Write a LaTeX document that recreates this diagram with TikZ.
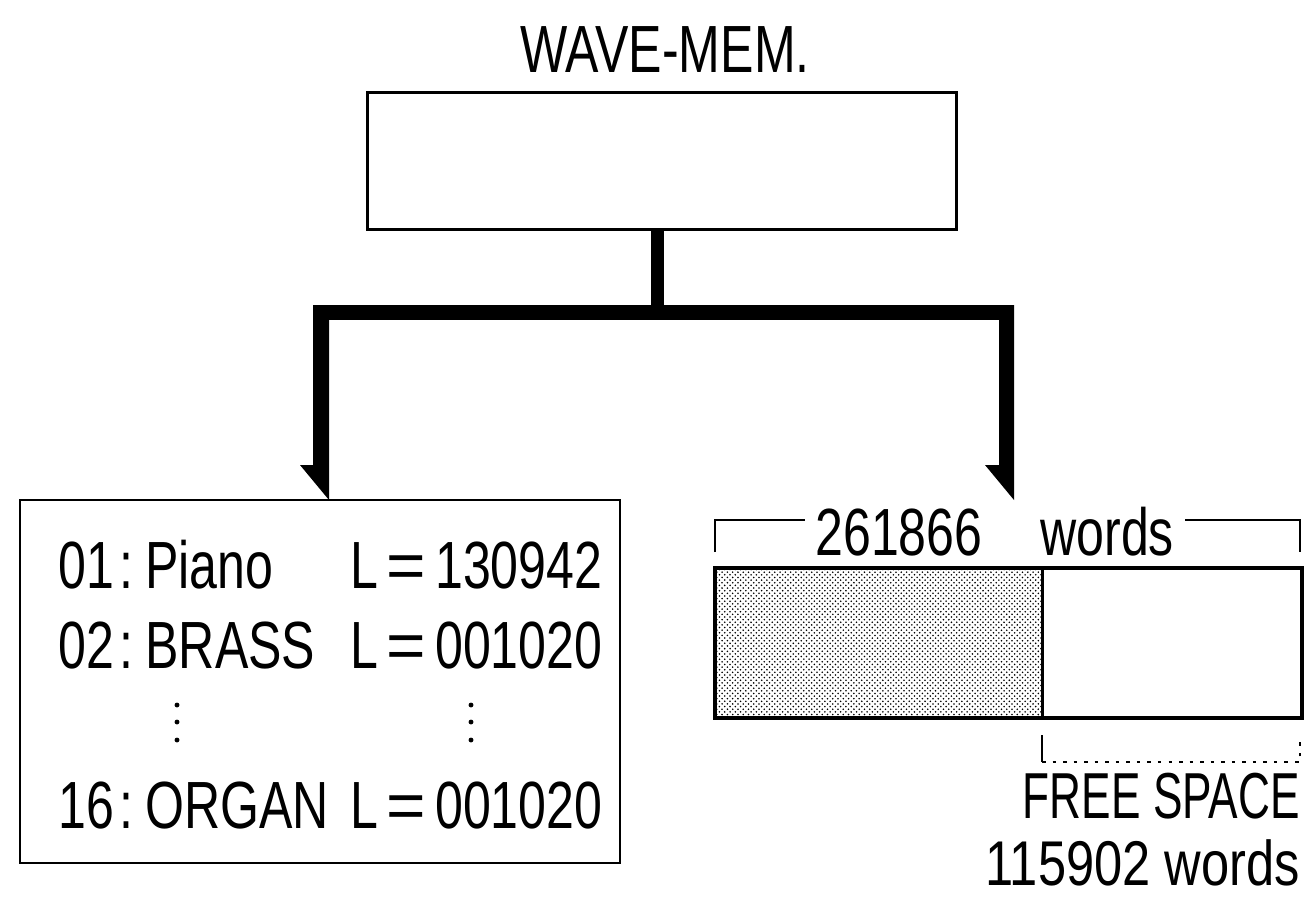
\documentclass[tikz,border=0pt]{standalone}
\usepackage{fontspec}
\setmainfont{Liberation Sans}[FakeStretch=0.75]
\newfontfamily\narrowfont{Liberation Sans}[FakeStretch=0.68]
\newfontfamily\widerfont{Liberation Sans}[FakeStretch=0.8]
\usetikzlibrary{patterns,calc}
\newcommand{\weq}{\kern5pt\scalebox{1.35}[1]{=}\kern5pt}
\begin{document}
\begin{tikzpicture}[x=0.02cm,y=-0.02cm,
  lbl/.style={inner sep=0pt,font=\fontsize{38}{40}\selectfont},
  frame/.style={draw,line width=1.7pt,inner sep=0pt},
  thinline/.style={line width=1.1pt},
  bus/.style={fill=black}]
\useasboundingbox (0,0) rectangle (1313,899);
% title and top box
\node[lbl,anchor=base] (title) at (665,72) {WAVE-MEM.};
\node[frame,minimum width=11.8cm,minimum height=2.76cm] (top) at (662,161) {};
% left box
\node[frame,line width=1.4pt,minimum width=12cm,minimum height=7.26cm] (lbox) at (320,681.5) {};
% bus connectors
\coordinate (ltip) at (329,500);
\coordinate (rtip) at (1014,500);
\fill[bus] (651,230) rectangle (664,320);
\fill[bus] (313,305) rectangle (1014,320);
\fill[bus] (313,305) -- (329,305) -- (ltip) -- (300,465) -- (313,465) -- cycle;
\fill[bus] (999,305) -- (1014,305) -- (rtip) -- (985,465) -- (999,465) -- cycle;
% left box rows
\node[lbl,anchor=base west] (r1a) at (58,588) {01\kern3pt:\kern7pt Piano};
\node[lbl,anchor=base west] (r1b) at (350,588) {L\weq 130942};
\node[lbl,anchor=base west] (r2a) at (58,668) {02\kern3pt:\kern7pt BRASS};
\node[lbl,anchor=base west] (r2b) at (350,668) {L\weq 001020};
\node[lbl,anchor=base west] (r4a) at (58,828) {16\kern3pt:\kern7pt ORGAN};
\node[lbl,anchor=base west] (r4b) at (350,828) {L\weq 001020};
\foreach \yy in {705,722,740} {
  \fill (177,\yy) circle[radius=1.4pt];
  \fill (471,\yy) circle[radius=1.4pt];
}
% right: memory bar
\node[inner sep=0pt,minimum width=6.54cm,minimum height=3cm,fill=black!12,pattern=crosshatch dots] (used) at (878.5,643) {};
\node[frame,line width=2.3pt,minimum width=11.74cm,minimum height=3cm] (bar) at (1008.5,643) {};
\draw[line width=1.7pt] (used.north east) -- (used.south east);
% top bracket
\node[lbl,anchor=base west] (n1) at (815,555) {261866};
\node[lbl,anchor=base west] (n2) at (1040,555) {words};
\coordinate (bl) at (715,552);
\coordinate (br) at (1300,552);
\draw[thinline] (bl) -- (715,520) -- (805,520);
\draw[thinline] (1185,520) -- (1300,520) -- (br);
% free space bracket
\coordinate (fl) at (1042,735);
\draw[thinline] (fl) -- (1042,762);
\draw[thinline,dash pattern=on 2pt off 4pt] (1042,762) -- (1300,762) -- (1300,738);
\node[lbl,anchor=base east,font=\fontsize{37}{40}\narrowfont] (fs) at (1300,818) {FREE SPACE};
\node[lbl,anchor=base east,font=\fontsize{36}{40}\widerfont] (fw) at (1300,885) {115902 words};
\end{tikzpicture}
\end{document}
